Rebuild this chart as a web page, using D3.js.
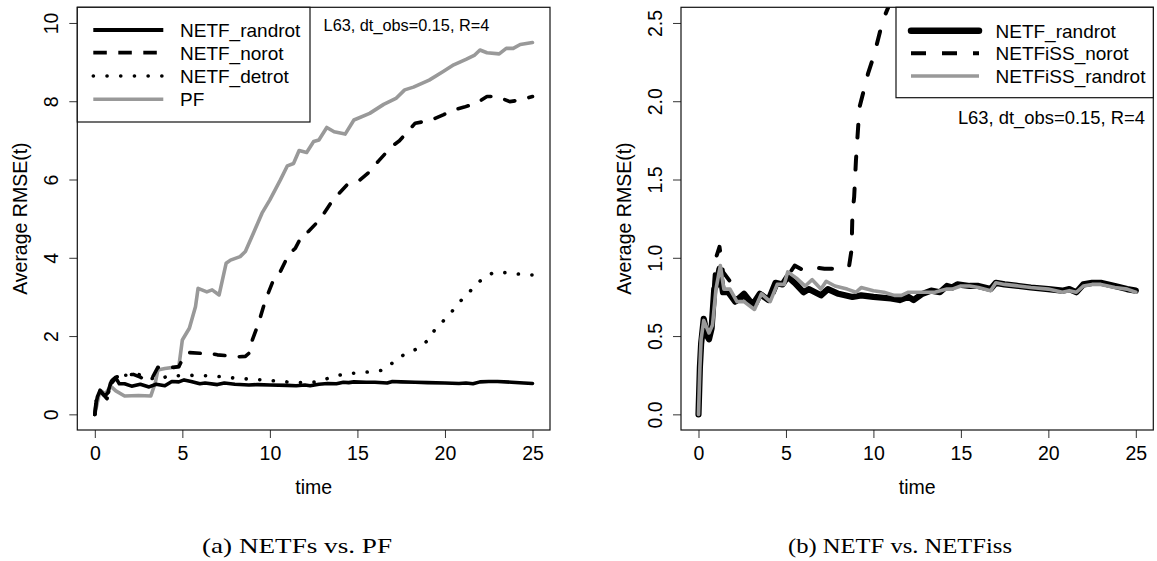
<!DOCTYPE html>
<html><head><meta charset="utf-8">
<script src="https://cdn.jsdelivr.net/npm/d3@7"></script>
<style>html,body{margin:0;padding:0;background:#fff}svg{display:block}</style>
</head><body>
<script>
// ---------- DATA ----------
const xTicks = [0, 5, 10, 15, 20, 25];
const xTickLabels = ["0", "5", "10", "15", "20", "25"];
const yTicksA = [0, 2, 4, 6, 8, 10];
const yTickLabelsA = ["0", "2", "4", "6", "8", "10"];
const yTicksB = [0, 0.5, 1.0, 1.5, 2.0, 2.5];
const yTickLabelsB = ["0.0", "0.5", "1.0", "1.5", "2.0", "2.5"];

// NETF_randrot (same series in both panels)
const tRandrot = [0,0.08,0.15,0.3,0.5,0.6,0.75,0.9,1.0,1.2,1.4,1.7,2.1,2.6,3.1,3.5,4.0,4.4,4.8,5.1,5.5,6.0,6.3,7.0,7.4,8.0,8.8,9.3,10.0,11.0,11.5,12.0,12.3,12.8,13.3,13.8,14.2,14.5,14.8,15.5,16.0,16.7,17.0,17.5,18.3,19.0,20.0,20.8,21.2,21.6,22.0,22.5,23.0,23.8,24.5,25.0];
const vRandrot = [0,0.3,0.45,0.61,0.5,0.48,0.55,0.8,0.82,0.93,0.78,0.78,0.72,0.77,0.7,0.77,0.73,0.84,0.83,0.88,0.84,0.78,0.8,0.76,0.8,0.77,0.75,0.76,0.75,0.74,0.73,0.75,0.73,0.77,0.79,0.78,0.82,0.81,0.83,0.82,0.82,0.8,0.84,0.83,0.82,0.81,0.8,0.79,0.8,0.78,0.83,0.84,0.84,0.82,0.8,0.79];

// NETF_norot (panel a)
const tNorot = [0,0.1,0.3,0.5,0.7,0.95,1.2,1.6,2.2,2.6,3.0,3.3,3.6,4.0,4.5,4.8,5.0,5.3,6.0,6.4,7.0,7.5,8.1,8.6,8.9,9.0,9.35,9.75,10.2,10.6,11.1,11.45,11.9,12.2,12.9,13.1,13.6,14.4,15.15,15.8,16.2,16.95,17.4,18.3,19.1,19.9,20.5,21.1,21.8,22.4,23.0,23.7,24.3,25];
const vNorot = [0,0.45,0.6,0.5,0.4,0.85,0.95,1.0,1.02,0.95,0.85,0.95,1.2,1.22,1.2,1.22,1.4,1.58,1.56,1.58,1.52,1.5,1.47,1.48,1.6,1.9,2.33,2.92,3.43,3.65,4.11,4.24,4.63,4.67,5.0,5.14,5.48,5.86,5.99,6.24,6.47,6.84,6.99,7.44,7.5,7.65,7.78,7.85,7.95,8.12,8.12,7.99,8.03,8.12];

// NETF_detrot (panel a)
const tDetrot = [0,0.1,0.3,0.5,0.7,0.95,1.2,1.5,2.0,2.4,3.0,3.6,4.3,5.0,5.75,6.55,7.3,8.1,8.85,9.6,10.4,11.2,12.0,12.75,13.5,14.25,15.0,15.8,16.5,17.1,17.7,18.4,19.0,19.45,20.0,20.5,21.0,21.55,22.1,22.75,23.5,24.3,25];
const vDetrot = [0,0.45,0.6,0.5,0.42,0.85,0.95,1.0,1.0,1.03,0.95,0.88,1.0,0.98,1.0,0.98,0.96,0.92,0.9,0.88,0.85,0.82,0.81,0.83,0.95,1.03,1.06,1.09,1.13,1.35,1.54,1.67,1.88,2.18,2.43,2.68,2.95,3.2,3.45,3.62,3.62,3.58,3.56];

// PF (panel a)
const tPF = [0,0.3,0.6,0.9,1.2,1.7,2.5,3.2,3.45,3.6,4.0,4.8,5.0,5.4,5.75,5.9,6.4,6.7,7.1,7.5,7.75,8.3,8.6,9.1,9.55,10.0,10.6,11.0,11.35,11.67,12.1,12.5,12.8,13.25,13.67,14.3,14.8,15.7,16.5,17.2,17.7,18.2,19.1,19.9,20.5,21.2,21.7,22.0,22.4,23.1,23.5,23.9,24.3,25];
const vPF = [0,0.62,0.52,0.72,0.6,0.47,0.48,0.47,0.8,1.13,1.17,1.22,1.9,2.2,2.75,3.22,3.13,3.18,3.05,3.86,3.94,4.03,4.16,4.67,5.14,5.48,5.99,6.35,6.41,6.74,6.69,6.97,7.01,7.33,7.22,7.16,7.52,7.69,7.92,8.07,8.29,8.36,8.54,8.76,8.93,9.07,9.18,9.31,9.24,9.21,9.35,9.35,9.45,9.5];

// NETFiSS_norot (panel b)
const tIssNorot = [0,0.08,0.15,0.3,0.55,0.75,0.9,1.0,1.2,1.4,1.8,2.2,2.6,3.2,3.6,4.1,4.5,4.9,5.2,5.5,6.0,6.5,7.2,8.0,8.6,8.75,8.8,8.9,9.0,9.1,9.2,9.45,9.7,10.05,10.3,10.5,10.7,10.85,11.2];
const vIssNorot = [0,0.3,0.5,0.6,0.5,0.55,0.85,1.0,1.07,0.91,0.85,0.72,0.75,0.68,0.77,0.72,0.83,0.83,0.9,0.95,0.92,0.94,0.93,0.93,0.94,1.05,1.28,1.39,1.62,1.79,1.96,2.07,2.18,2.3,2.41,2.5,2.56,2.6,2.75];

// NETFiSS_randrot (panel b)
const tIssRandrot = [0,0.08,0.15,0.3,0.6,0.8,1.0,1.25,1.45,1.8,2.2,2.6,3.2,3.6,4.1,4.5,4.9,5.1,5.6,6.1,6.5,7.0,7.3,7.8,8.5,9.0,9.3,10.0,10.6,11.2,11.6,12.0,12.5,13.0,13.5,14.2,14.5,15.0,15.5,16.0,16.7,17.0,17.5,18.3,19.0,20.0,20.8,21.2,21.6,22.0,22.5,23.0,23.8,24.5,25];
const vIssRandrot = [0,0.3,0.48,0.6,0.52,0.57,0.8,0.95,0.8,0.8,0.72,0.72,0.67,0.77,0.72,0.83,0.83,0.91,0.87,0.82,0.86,0.8,0.85,0.82,0.8,0.78,0.81,0.79,0.78,0.76,0.76,0.78,0.78,0.78,0.78,0.8,0.8,0.82,0.82,0.81,0.79,0.84,0.83,0.82,0.81,0.8,0.78,0.79,0.78,0.82,0.83,0.83,0.81,0.8,0.78];

const legendA = ["NETF_randrot", "NETF_norot", "NETF_detrot", "PF"];
const legendB = ["NETF_randrot", "NETFiSS_norot", "NETFiSS_randrot"];
const annotation = "L63, dt_obs=0.15, R=4";
const yTitle = "Average RMSE(t)";
const xTitle = "time";
const captionA = "(a) NETFs vs. PF";
const captionB = "(b) NETF vs. NETFiss";

// ---------- DRAWING ----------
const W = 1157, H = 561;
const SANS = "'Liberation Sans', Arial, Helvetica, sans-serif";
const GRAY = "#999999";
const svg = d3.select("body").append("svg").attr("width", W).attr("height", H);
svg.append("rect").attr("width", W).attr("height", H).attr("fill", "#fff");

const zip = (t, v) => t.map((d, i) => [d, v[i]]);

function panel(id, box, yDomain, yTicks, yLabels) {
  const g = svg.append("g");
  const x = d3.scaleLinear().domain([-1, 26]).range([box.x0, box.x1]);
  const y = d3.scaleLinear().domain(yDomain).range([box.y1, box.y0]);
  svg.append("clipPath").attr("id", id).append("rect")
    .attr("x", box.x0).attr("y", box.y0).attr("width", box.x1 - box.x0).attr("height", box.y1 - box.y0);
  // x axis
  const ax = g.append("g").attr("transform", `translate(0,${box.y1})`)
    .call(d3.axisBottom(x).tickValues(xTicks).tickFormat((d, i) => xTickLabels[i]).tickSize(8).tickSizeOuter(0));
  ax.select(".domain").remove();
  ax.selectAll("line").attr("stroke", "#333").attr("stroke-width", 1);
  ax.selectAll("text").attr("y", 29.5).attr("dy", null).attr("fill", "#000")
    .style("font-family", SANS).style("font-size", "19.5px");
  // y axis
  const ay = g.append("g").attr("transform", `translate(${box.x0},0)`)
    .call(d3.axisLeft(y).tickValues(yTicks).tickFormat((d, i) => yLabels[i]).tickSize(8).tickSizeOuter(0));
  ay.select(".domain").remove();
  ay.selectAll("line").attr("stroke", "#333").attr("stroke-width", 1);
  ay.selectAll("text").attr("x", null).attr("dy", null).attr("text-anchor", "middle")
    .attr("transform", "translate(-19.5,0) rotate(-90)").attr("fill", "#000")
    .style("font-family", SANS).style("font-size", "19.5px");
  // titles
  g.append("text").attr("x", (box.x0 + box.x1) / 2).attr("y", 494).attr("text-anchor", "middle")
    .style("font-family", SANS).style("font-size", "19.5px").text(xTitle);
  g.append("text").attr("transform", `translate(${box.x0 - 50},${(box.y0 + box.y1) / 2}) rotate(-90)`)
    .attr("text-anchor", "middle").style("font-family", SANS).style("font-size", "19.5px").text(yTitle);
  const lines = svg.append("g").attr("clip-path", `url(#${id})`);
  return { x, y, g, lines };
}

function drawLine(p, data, color, width, dash) {
  const line = d3.line().x(d => p.x(d[0])).y(d => p.y(d[1]));
  const path = p.lines.append("path").datum(data).attr("d", line).attr("fill", "none")
    .attr("stroke", color).attr("stroke-width", width)
    .attr("stroke-linecap", "round").attr("stroke-linejoin", "round");
  if (dash) path.attr("stroke-dasharray", dash);
}

function frame(box) {
  svg.append("rect").attr("x", box.x0).attr("y", box.y0).attr("width", box.x1 - box.x0)
    .attr("height", box.y1 - box.y0).attr("fill", "none").attr("stroke", "#111").attr("stroke-width", 1.2);
}

function legend(box, rows, lineX0, lineX1, textX, items, fs) {
  svg.append("rect").attr("x", box.x0).attr("y", box.y0).attr("width", box.x1 - box.x0)
    .attr("height", box.y1 - box.y0).attr("fill", "#fff").attr("stroke", "#111").attr("stroke-width", 1.2);
  items.forEach((it, i) => {
    const l = svg.append("line").attr("x1", lineX0).attr("x2", lineX1).attr("y1", rows[i]).attr("y2", rows[i])
      .attr("stroke", it.color).attr("stroke-width", it.width).attr("stroke-linecap", it.cap || "butt");
    if (it.dash) l.attr("stroke-dasharray", it.dash);
    svg.append("text").attr("x", textX).attr("y", rows[i] + fs * 0.36)
      .style("font-family", SANS).style("font-size", fs + "px").text(it.label);
  });
}

// ---- Panel (a)
const boxA = { x0: 77.3, x1: 550, y0: 7.3, y1: 430 };
const pA = panel("clipA", boxA, [-0.4, 10.4], yTicksA, yTickLabelsA);
drawLine(pA, zip(tPF, vPF), GRAY, 3.6);
drawLine(pA, zip(tDetrot, vDetrot), "#000", 3.6, "0.1,13.5");
drawLine(pA, zip(tNorot, vNorot), "#000", 3.6, "10.5,14.5");
drawLine(pA, zip(tRandrot, vRandrot), "#000", 3.6);
frame(boxA);
legend({ x0: 77.3, x1: 310, y0: 7.3, y1: 122 }, [30, 52.7, 76, 99.3], 93.3, 163.3, 180, [
  { label: legendA[0], color: "#000", width: 3.8 },
  { label: legendA[1], color: "#000", width: 3.8, dash: "13.5,11.5" },
  { label: legendA[2], color: "#000", width: 3.6, dash: "0.1,13.6", cap: "round" },
  { label: legendA[3], color: GRAY, width: 3.6 }
], 19);
svg.append("text").attr("x", 323.6).attr("y", 25 + 5.8)
  .style("font-family", SANS).style("font-size", "16.3px").text(annotation);

// ---- Panel (b)
const boxB = { x0: 681, x1: 1153.3, y0: 7.3, y1: 430 };
const pB = panel("clipB", boxB, [-0.1, 2.6], yTicksB, yTickLabelsB);
drawLine(pB, zip(tRandrot, vRandrot), "#000", 6.2);
drawLine(pB, zip(tIssNorot, vIssNorot), "#000", 4, "13,19");
drawLine(pB, zip(tIssRandrot, vIssRandrot), GRAY, 3.6);
frame(boxB);
legend({ x0: 896, x1: 1153.3, y0: 7.3, y1: 97.7 }, [30.7, 53.3, 76], 911, 979, 995.5, [
  { label: legendB[0], color: "#000", width: 6.5, cap: "round" },
  { label: legendB[1], color: "#000", width: 4, dash: "15,16" },
  { label: legendB[2], color: GRAY, width: 3.6 }
], 19);
svg.append("text").attr("x", 1145).attr("y", 117.3 + 6.6).attr("text-anchor", "end")
  .style("font-family", SANS).style("font-size", "18.4px").text(annotation);

// ---- Captions
const SERIF = "'Liberation Serif', 'Times New Roman', serif";
svg.append("text").attr("x", 297 - 95).attr("y", 553).attr("textLength", 190).attr("lengthAdjust", "spacingAndGlyphs")
  .style("font-family", SERIF).style("font-size", "21.5px").text(captionA);
svg.append("text").attr("x", 900 - 112).attr("y", 553).attr("textLength", 224).attr("lengthAdjust", "spacingAndGlyphs")
  .style("font-family", SERIF).style("font-size", "21.5px").text(captionB);
</script>
</body></html>
